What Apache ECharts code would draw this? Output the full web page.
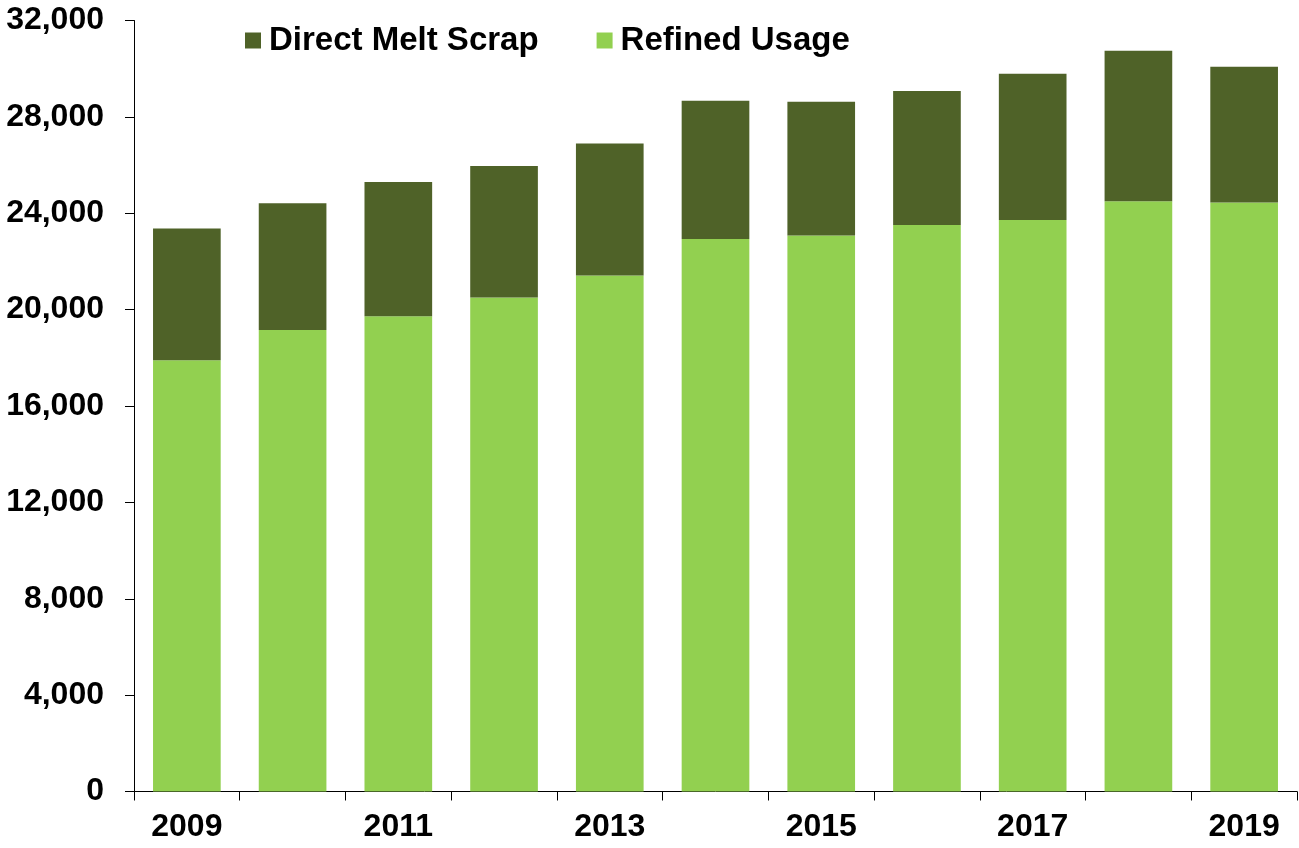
<!DOCTYPE html>
<html>
<head>
<meta charset="utf-8">
<script src="https://cdn.jsdelivr.net/npm/echarts@6/dist/echarts.min.js"></script>
<style>
  html, body { margin: 0; padding: 0; background: #fff; }
  #chart { width: 1299px; height: 848px; }
</style>
</head>
<body>
<div id="chart"></div>
<script>
const years = ["2009", "2010", "2011", "2012", "2013", "2014", "2015", "2016", "2017", "2018", "2019"];
const refinedUsage = [17900, 19150, 19720, 20500, 21420, 22930, 23080, 23510, 23720, 24500, 24450];
const directMeltScrap = [5470, 5260, 5580, 5460, 5480, 5740, 5550, 5560, 6070, 6240, 5630];

const FONT = "'Liberation Sans', Arial, Helvetica, sans-serif";

const chart = echarts.init(document.getElementById("chart"));
chart.setOption({
  animation: false,
  backgroundColor: "#ffffff",
  legend: {
    data: ["Direct Melt Scrap", "Refined Usage"],
    left: 240,
    top: 19,
    itemWidth: 16,
    itemHeight: 16,
    itemGap: 58,
    icon: "rect",
    textStyle: {
      fontFamily: FONT,
      fontWeight: "bold",
      fontSize: 33,
      color: "#000",
      padding: [0, 0, 0, 3],
    },
  },
  grid: { left: 134, right: 2, top: 20.5, bottom: 56.5 },
  xAxis: {
    type: "category",
    data: years,
    axisLine: { lineStyle: { color: "#000", width: 1 } },
    axisTick: { show: true, length: 9, interval: 0, lineStyle: { color: "#000" } },
    axisLabel: {
      interval: 1,
      margin: 20,
      fontFamily: FONT,
      fontWeight: "bold",
      fontSize: 32,
      color: "#000",
    },
    splitLine: { show: false },
  },
  yAxis: {
    type: "value",
    min: 0,
    max: 32000,
    interval: 4000,
    axisLine: { show: true, lineStyle: { color: "#000", width: 1 } },
    axisTick: { show: true, length: 9, lineStyle: { color: "#000" } },
    axisLabel: {
      margin: 30,
      fontFamily: FONT,
      fontWeight: "bold",
      fontSize: 32,
      color: "#000",
      formatter: (v) => v.toLocaleString("en-US"),
    },
    splitLine: { show: false },
  },
  series: [
    {
      name: "Refined Usage",
      type: "bar",
      stack: "total",
      barWidth: "64%",
      itemStyle: { color: "#92D050" },
      data: refinedUsage,
    },
    {
      name: "Direct Melt Scrap",
      type: "bar",
      stack: "total",
      barWidth: "64%",
      itemStyle: { color: "#4F6228" },
      data: directMeltScrap,
    },
  ],
});
</script>
</body>
</html>
